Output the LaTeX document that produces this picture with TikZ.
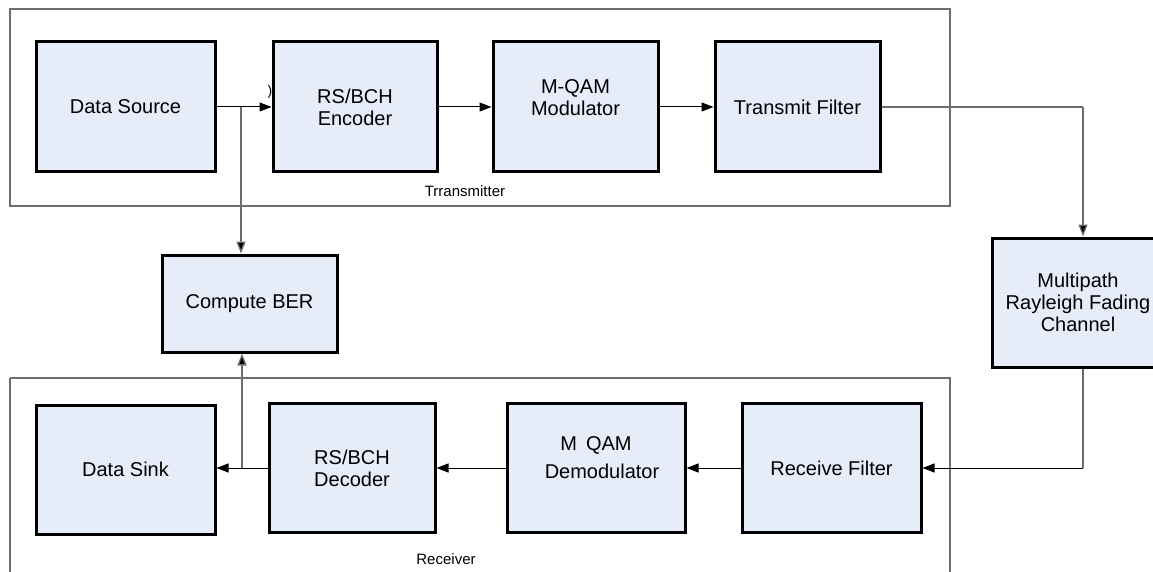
\documentclass[tikz,border=0pt]{standalone}
\usepackage{fontspec}
\setmainfont{Liberation Sans}
\usetikzlibrary{arrows.meta}
\definecolor{boxfill}{RGB}{230,237,248}
\definecolor{linegray}{RGB}{110,110,110}
\begin{document}
\begin{tikzpicture}[x=1pt,y=-1pt,
  blk/.style={draw=black,line width=3pt,fill=boxfill,inner sep=0pt,align=center,
    font=\fontsize{20}{22}\selectfont},
  group/.style={draw=linegray,line width=1.2pt},
  glabel/.style={font=\fontsize{15}{17}\selectfont,inner sep=0pt},
  arr/.style={draw=black,line width=1pt,-{Triangle[length=12pt,width=9pt]}},
  garr/.style={draw=linegray,line width=1.3pt,-{Triangle[length=12pt,width=9pt,fill=black]}},
  gline/.style={draw=linegray,line width=1.3pt}]
\useasboundingbox (0,0) rectangle (1153,572);
\fill[white] (0,0) rectangle (1153,572);
% group frames
\draw[group] (10,9) rectangle (950,206);
\draw[group] (10,378) -- (10,580) (10,378) -- (950,378) -- (950,580);
\node[glabel] (tx) at (465,191) {Trransmitter};
\node[glabel] (rx) at (446,559) {Receiver};
% blocks
\node[blk,minimum width=179pt,minimum height=130pt] (src) at (125.5,107) {Data Source};
\node[blk,minimum width=164pt,minimum height=130pt] (enc) at (355,107) {RS/BCH\\Encoder};
\node[blk,minimum width=165pt,minimum height=130pt] (mod) at (575.5,107) {M-QAM\\Modulator\\[-4pt]};
\node[blk,minimum width=165pt,minimum height=130pt] (txf) at (797.5,107) {Transmit Filter};
\node[blk,minimum width=175pt,minimum height=97pt] (ber) at (249.5,303.5) {Compute BER};
\node[blk,minimum width=172pt,minimum height=129pt] (ch) at (1078,302.5) {Multipath\\Rayleigh Fading\\Channel};
\node[blk,minimum width=179pt,minimum height=129pt] (sink) at (125.5,469.5) {Data Sink};
\node[blk,minimum width=166pt,minimum height=129pt] (dec) at (352,468) {RS/BCH\\Decoder};
\node[blk,minimum width=178pt,minimum height=129pt] (dem) at (596,468) {M\hspace{0.45em}QAM\\[6pt]\hspace{0.6em}Demodulator\\[-2pt]};
\node[blk,minimum width=179pt,minimum height=129pt] (rxf) at (831.5,468) {Receive Filter};
\node[font=\fontsize{14}{14}\selectfont,inner sep=0pt] (mark) at (270,92) {)};
% junctions
\coordinate (jt) at (241,107);
\coordinate (jb) at (242,468);
\coordinate (c1) at (1083,107);
\coordinate (c2) at (1083,468);
% connectors
\draw[arr] (src.east |- jt) -- (enc.west |- jt);
\draw[garr] (jt) -- (jt |- ber.north);
\draw[arr] (enc.east |- jt) -- (mod.west |- jt);
\draw[arr] (mod.east |- jt) -- (txf.west |- jt);
\draw[gline] (txf.east |- c1) -- (c1);
\draw[garr] (c1) -- (c1 |- ch.north);
\draw[gline] (c1 |- ch.south) -- (c2);
\draw[arr] (c2) -- (rxf.east |- c2);
\draw[arr] (rxf.west) -- (dem.east |- rxf.west);
\draw[arr] (dem.west |- dec.west) -- (dec.east);
\draw[arr] (dec.west) -- (sink.east |- dec.west);
\draw[garr] (jb) -- (jb |- ber.south);
\end{tikzpicture}
\end{document}
